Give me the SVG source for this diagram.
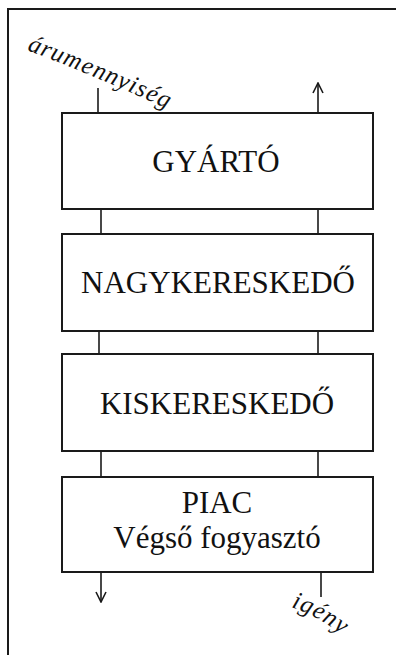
<svg xmlns="http://www.w3.org/2000/svg" width="396" height="655" viewBox="0 0 396 655">
  <style>
    .box { fill: #ffffff; stroke: #1a1a1a; stroke-width: 2; }
    .lbl { font-family: "Liberation Serif", "Times New Roman", serif; font-size: 31px; fill: #111111; text-anchor: middle; }
    .ital { font-family: "Liberation Serif", "Times New Roman", serif; font-style: italic; font-size: 25px; fill: #111111; }
    .conn { stroke: #1a1a1a; stroke-width: 1.6; fill: none; }
  </style>
  <defs>
    <marker id="arrow" viewBox="0 0 12 12" refX="11" refY="6" markerWidth="12" markerHeight="12" markerUnits="userSpaceOnUse" orient="auto">
      <path d="M1,1 L11,6 L1,11" fill="none" stroke="#1a1a1a" stroke-width="1.6"/>
    </marker>
    <path id="flowPath" d="M27,50 Q95,76 170,110"/>
    <path id="demandPath" d="M291,607 Q318,616 346,638"/>
  </defs>

  <rect width="396" height="655" fill="#ffffff"/>

  <!-- frame: top and left edges -->
  <path d="M8,655 L8,9 L396,9" fill="none" stroke="#1a1a1a" stroke-width="2"/>

  <g id="connectors">
    <line class="conn" x1="98" y1="88" x2="98" y2="113"/>
    <line class="conn" x1="318" y1="113" x2="318" y2="83" marker-end="url(#arrow)"/>
    <line class="conn" x1="101" y1="209" x2="101" y2="234"/>
    <line class="conn" x1="318" y1="209" x2="318" y2="234"/>
    <line class="conn" x1="99" y1="331" x2="99" y2="354"/>
    <line class="conn" x1="318" y1="331" x2="318" y2="354"/>
    <line class="conn" x1="101" y1="451" x2="101" y2="477"/>
    <line class="conn" x1="318" y1="451" x2="318" y2="477"/>
    <line class="conn" x1="101" y1="572" x2="101" y2="602" marker-end="url(#arrow)"/>
    <line class="conn" x1="321" y1="572" x2="321" y2="597"/>
  </g>

  <g id="label-flow">
    <text class="ital"><textPath href="#flowPath" textLength="152" lengthAdjust="spacing">árumennyiség</textPath></text>
  </g>
  <g id="label-demand">
    <text class="ital"><textPath href="#demandPath" textLength="58" lengthAdjust="spacing">igény</textPath></text>
  </g>

  <g id="gyarto">
    <rect class="box" x="62" y="113" width="311" height="96"/>
    <text class="lbl" x="216" y="172">GYÁRTÓ</text>
  </g>
  <g id="nagykereskedo">
    <rect class="box" x="62" y="234" width="311" height="97"/>
    <text class="lbl" x="218" y="293">NAGYKERESKEDŐ</text>
  </g>
  <g id="kiskereskedo">
    <rect class="box" x="62" y="354" width="311" height="97"/>
    <text class="lbl" x="217" y="414">KISKERESKEDŐ</text>
  </g>
  <g id="piac">
    <rect class="box" x="62" y="477" width="311" height="95"/>
    <text class="lbl" x="217" y="513">PIAC</text>
    <text class="lbl" x="217" y="548">Végső fogyasztó</text>
  </g>
</svg>
